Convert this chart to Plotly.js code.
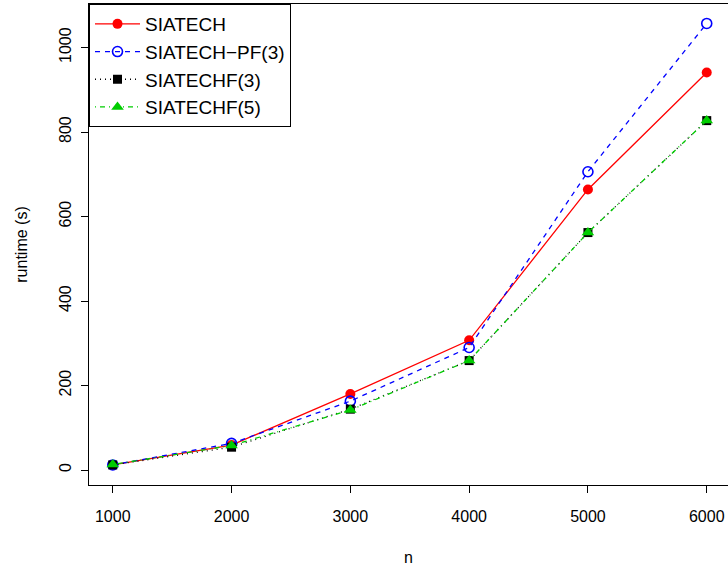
<!DOCTYPE html>
<html>
<head>
<meta charset="utf-8">
<script src="https://cdn.plot.ly/plotly-3.0.1.min.js"></script>
<style>html,body{margin:0;padding:0;background:#fff;}#chart{width:728px;height:571px;}</style>
</head>
<body>
<div id="chart"></div>
<script>
const n = [1000, 2000, 3000, 4000, 5000, 6000];
const siatech = [12, 59, 180, 307, 664, 941];
const siatechPF3 = [12, 63, 163, 290, 706, 1057];
const siatechF3 = [12, 54, 144, 259, 562, 827];
const siatechF5 = [13, 58, 142, 259, 562, 827];
const seriesNames = ['SIATECH', 'SIATECH\u2212PF(3)', 'SIATECHF(3)', 'SIATECHF(5)'];
const xTicks = [1000, 2000, 3000, 4000, 5000, 6000];
const yTicks = [0, 200, 400, 600, 800, 1000];

const font = 'Liberation Sans, Arial, Helvetica, sans-serif';
const traces = [
  {x: n, y: siatech, name: seriesNames[0], mode: 'lines+markers',
   line: {color: '#FF0000', width: 1.3, dash: 'solid'},
   marker: {color: '#FF0000', size: 10, symbol: 'circle'}},
  {x: n, y: siatechPF3, name: seriesNames[1], mode: 'lines+markers',
   line: {color: '#0000FF', width: 1.3, dash: '5px,5px'},
   marker: {color: '#0000FF', size: 10, symbol: 'circle-open', line: {width: 1.6, color: '#0000FF'}}},
  {x: n, y: siatechF3, name: seriesNames[2], mode: 'lines+markers',
   line: {color: '#000000', width: 1.3, dash: '1px,4px'},
   marker: {color: '#000000', size: 9, symbol: 'square'}},
  {x: n, y: siatechF5, name: seriesNames[3], mode: 'lines+markers',
   line: {color: '#00CD00', width: 1.3, dash: '1px,4px,5px,4px'},
   marker: {color: '#00CD00', size: 11, symbol: 'triangle-up'}}
];

const layout = {
  width: 728, height: 571,
  margin: {l: 89, r: 0, t: 4, b: 86},
  paper_bgcolor: '#fff', plot_bgcolor: '#fff',
  font: {family: font, size: 16, color: '#000'},
  showlegend: true,
  legend: {x: 0, y: 1, xanchor: 'left', yanchor: 'top', bordercolor: '#000', borderwidth: 1,
           bgcolor: '#fff', font: {family: font, size: 19, color: '#000'}, itemwidth: 45,
           tracegroupgap: 0},
  xaxis: {
    range: [800, 6179], tickvals: xTicks, ticktext: xTicks.map(String),
    showgrid: false, zeroline: false, showline: true, linecolor: '#000', linewidth: 1,
    mirror: true, ticks: 'outside', ticklen: 7, tickcolor: '#000', tickwidth: 1,
    ticklabelstandoff: 10,
    title: {text: 'n', font: {family: font, size: 16}, standoff: 27}
  },
  yaxis: {
    range: [-35.5, 1103], tickvals: yTicks, ticktext: yTicks.map(String),
    showgrid: false, zeroline: false, showline: true, linecolor: '#000', linewidth: 1,
    mirror: false, ticks: 'outside', ticklen: 7, tickcolor: '#000', tickwidth: 1,
    tickangle: -90, ticklabelstandoff: 4,
    title: {text: 'runtime (s)', font: {family: font, size: 16}, standoff: 24}
  }
};
Plotly.newPlot('chart', traces, layout, {staticPlot: true, displayModeBar: false});
</script>
</body>
</html>
